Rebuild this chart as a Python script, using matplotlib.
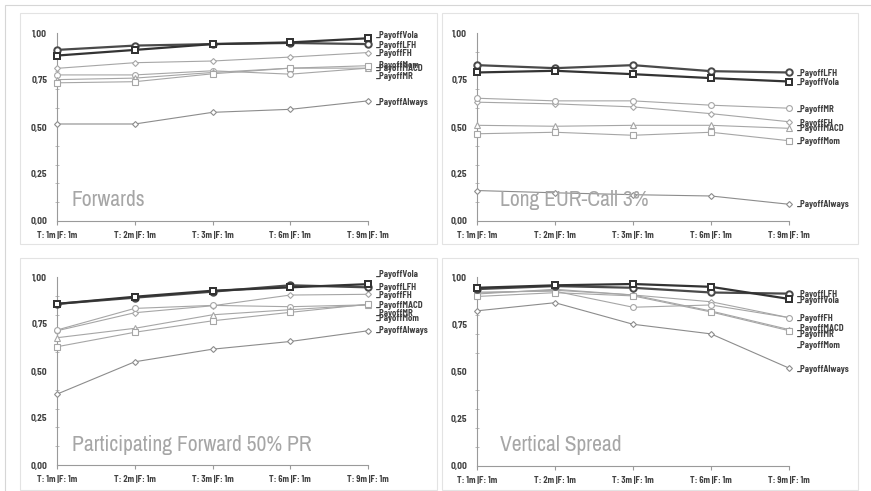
import matplotlib
matplotlib.use("Agg")
import matplotlib.pyplot as plt
from matplotlib.patches import Rectangle
from matplotlib.ticker import FixedLocator, MultipleLocator

plt.rcParams['font.family'] = ['Archivo Narrow', 'DejaVu Sans']
small_font = ['Barlow Semi Condensed', 'DejaVu Sans']

# x categories shared by all four charts
categories = ['T: 1m |F: 1m', 'T: 2m |F: 1m', 'T: 3m |F: 1m', 'T: 6m |F: 1m', 'T: 9m |F: 1m']
series_names = ['_PayoffVola', '_PayoffLFH', '_PayoffFH', '_PayoffMR',
                '_PayoffMACD', '_PayoffMom', '_PayoffAlways']

# Forwards
fwd_vola = [0.880, 0.910, 0.941, 0.950, 0.972]
fwd_lfh = [0.910, 0.933, 0.941, 0.947, 0.941]
fwd_fh = [0.812, 0.842, 0.851, 0.872, 0.896]
fwd_mr = [0.777, 0.777, 0.799, 0.781, 0.813]
fwd_macd = [0.752, 0.760, 0.790, 0.813, 0.813]
fwd_mom = [0.735, 0.741, 0.783, 0.813, 0.826]
fwd_always = [0.516, 0.516, 0.578, 0.594, 0.639]

# Long EUR-Call 3%
call_vola = [0.790, 0.799, 0.781, 0.760, 0.742]
call_lfh = [0.829, 0.813, 0.829, 0.797, 0.790]
call_fh = [0.632, 0.623, 0.607, 0.571, 0.528]
call_mr = [0.653, 0.639, 0.639, 0.616, 0.600]
call_macd = [0.509, 0.504, 0.509, 0.509, 0.493]
call_mom = [0.464, 0.472, 0.456, 0.472, 0.427]
call_always = [0.162, 0.150, 0.140, 0.133, 0.089]

# Participating Forward 50% PR
pf_vola = [0.857, 0.895, 0.927, 0.945, 0.962]
pf_lfh = [0.857, 0.890, 0.922, 0.956, 0.945]
pf_fh = [0.714, 0.810, 0.847, 0.904, 0.908]
pf_mr = [0.718, 0.833, 0.849, 0.842, 0.852]
pf_macd = [0.677, 0.727, 0.799, 0.826, 0.852]
pf_mom = [0.629, 0.706, 0.767, 0.812, 0.855]
pf_always = [0.377, 0.549, 0.616, 0.657, 0.714]

# Vertical Spread
vs_vola = [0.943, 0.956, 0.963, 0.948, 0.884]
vs_lfh = [0.936, 0.952, 0.943, 0.918, 0.912]
vs_fh = [0.915, 0.930, 0.905, 0.869, 0.785]
vs_mr = [0.920, 0.925, 0.840, 0.852, 0.785]
vs_macd = [0.910, 0.935, 0.905, 0.820, 0.722]
vs_mom = [0.897, 0.917, 0.900, 0.815, 0.716]
vs_always = [0.821, 0.864, 0.750, 0.699, 0.518]

panel_titles = ['Forwards', 'Long EUR-Call 3%', 'Participating Forward 50% PR', 'Vertical Spread']
panel_data = [
    [fwd_vola, fwd_lfh, fwd_fh, fwd_mr, fwd_macd, fwd_mom, fwd_always],
    [call_vola, call_lfh, call_fh, call_mr, call_macd, call_mom, call_always],
    [pf_vola, pf_lfh, pf_fh, pf_mr, pf_macd, pf_mom, pf_always],
    [vs_vola, vs_lfh, vs_fh, vs_mr, vs_macd, vs_mom, vs_always],
]

# label nudges (data units) so the end labels don't sit on top of each other
label_nudge = [
    {'_PayoffVola': 0.014, '_PayoffLFH': -0.005, '_PayoffFH': -0.007,
     '_PayoffMACD': -0.004, '_PayoffMR': -0.045, '_PayoffAlways': -0.01},
    {'_PayoffLFH': -0.004, '_PayoffVola': -0.004, '_PayoffMR': -0.006,
     '_PayoffFH': -0.007, '_PayoffMom': -0.005},
    {'_PayoffVola': 0.05, '_PayoffFH': -0.004, '_PayoffMACD': -0.005,
     '_PayoffMR': -0.047, '_PayoffMom': -0.077},
    {'_PayoffLFH': -0.003, '_PayoffVola': -0.01, '_PayoffFH': -0.004,
     '_PayoffMACD': 0.003, '_PayoffMR': -0.088, '_PayoffMom': -0.081, '_PayoffAlways': -0.005},
]

# color, linewidth, marker, markersize, zorder
styles = {
    '_PayoffVola': ('#333333', 1.6, 's', 4.6, 6),
    '_PayoffLFH': ('#4a4a4a', 1.6, 'o', 4.6, 5),
    '_PayoffFH': ('#a6a6a6', 0.8, 'D', 3.0, 3),
    '_PayoffMR': ('#a6a6a6', 0.8, 'o', 4.2, 3),
    '_PayoffMACD': ('#a6a6a6', 0.8, '^', 4.2, 3),
    '_PayoffMom': ('#a6a6a6', 0.8, 's', 4.0, 3),
    '_PayoffAlways': ('#8c8c8c', 0.8, 'D', 3.0, 3),
}

W, H = 871, 491
fig = plt.figure(figsize=(W / 100, H / 100), dpi=100)

# outer frame and panel boxes (pixels: x0, y0_top, x1, y1_bottom)
fig.patches.append(Rectangle((5 / W, -0.1), 1.2, 1 - 5 / H + 0.1, transform=fig.transFigure,
                             fill=False, edgecolor='#d6d6d6', linewidth=0.8))
boxes = [(20, 13, 437, 244), (442, 13, 858, 244), (20, 258, 437, 490), (442, 258, 858, 490)]
for x0, y0, x1, y1 in boxes:
    fig.patches.append(Rectangle((x0 / W, 1 - y1 / H), (x1 - x0) / W, (y1 - y0) / H,
                                 transform=fig.transFigure, fill=False,
                                 edgecolor='#e3e3e3', linewidth=0.8))

# plot areas in pixels: left, right, top (1.00), bottom (0.00)
areas = [(57, 368, 33, 221), (477, 789, 33, 221), (57, 368, 277, 465), (477, 789, 277, 466)]
title_pos = [(0.19, 0.11), (0.29, 0.11), (0.19, 0.105), (0.29, 0.11)]

x = list(range(len(categories)))
for k in range(4):
    l, r, t, b = areas[k]
    ax = fig.add_axes([l / W, 1 - b / H, (r - l) / W, (b - t) / H])
    ax.set_xlim(0, 4)
    ax.set_ylim(0, 1)
    ax.patch.set_alpha(0)
    for s in ['top', 'right']:
        ax.spines[s].set_visible(False)
    for s in ['left', 'bottom']:
        ax.spines[s].set_color('#9a9a9a')
        ax.spines[s].set_linewidth(0.8)

    for name, vals in zip(series_names, panel_data[k]):
        c, lw, m, ms, z = styles[name]
        ax.plot(x, vals, color=c, lw=lw, marker=m, ms=ms, mfc='white', mec=c,
                mew=lw * 0.9 if lw > 1 else 0.8, zorder=z, clip_on=False)
        ly = vals[-1] + label_nudge[k].get(name, 0)
        ax.annotate(name, xy=(x[-1], ly), xytext=(6, 0), textcoords='offset points',
                    va='center', ha='left', fontsize=6.3, fontweight='bold',
                    family=small_font, color='#404040', annotation_clip=False)

    ax.set_xticks(x)
    ax.set_xticklabels(categories, fontsize=6.3, fontweight='bold', family=small_font,
                       color='#404040')
    ax.tick_params(axis='x', length=3, width=0.8, color='#9a9a9a', pad=4)
    ax.yaxis.set_major_locator(FixedLocator([0, 0.25, 0.5, 0.75, 1.0]))
    ax.set_yticklabels(['0,00', '0,25', '0,50', '0,75', '1,00'], fontsize=6.8,
                       fontweight='bold', family=small_font, color='#404040')
    ax.yaxis.set_minor_locator(MultipleLocator(0.1))
    ax.tick_params(axis='y', which='major', length=0, pad=7)
    ax.tick_params(axis='y', which='minor', length=3, width=0.6, color='#b0b0b0',
                   direction='inout')

    tx, ty = title_pos[k]
    ax.text(tx, ty, panel_titles[k], fontsize=15.5, color='#a6a6a6',
            va='center', ha='left', zorder=10)

fig.savefig('out.png', dpi=100)
